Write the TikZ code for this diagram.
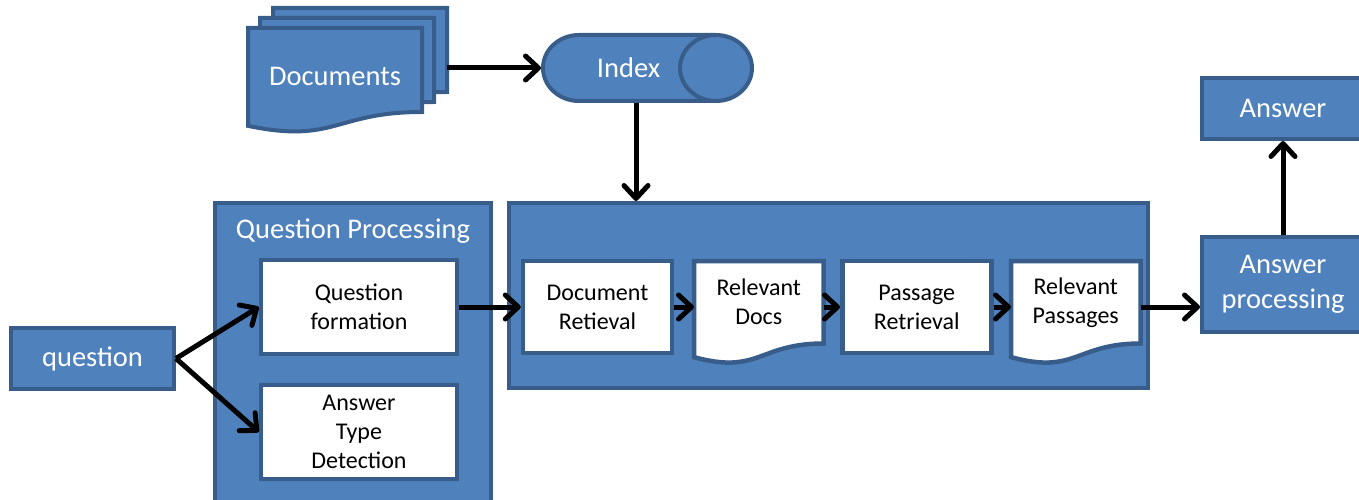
\documentclass[tikz,border=0pt]{standalone}
\usepackage{fontspec}
\setmainfont{Carlito}
\usetikzlibrary{positioning, shapes.geometric, arrows.meta, calc}
\definecolor{boxblue}{HTML}{4F81BD}
\definecolor{edgeblue}{HTML}{385D8A}
\pgfdeclarelayer{back}
\pgfdeclarelayer{middle}
\pgfsetlayers{back,middle,main}

% outline of a document node, wavy bottom below the node box
\newcommand{\docoutline}[1]{(#1.north west) -- (#1.north east) -- (#1.south east)
  .. controls (#1.south) and ($(#1.north)!1.381!(#1.south)$)
  .. ($(#1.north west)!1.165!(#1.south west)$) -- cycle}

\begin{document}
\begin{tikzpicture}[
  x=1pt, y=1pt,
  bluebox/.style={draw=edgeblue, fill=boxblue, line width=4pt, text=white,
    font=\fontsize{28.5}{35}\selectfont, align=center, inner sep=0pt},
  whitebox/.style={draw=edgeblue, fill=white, line width=4.5pt, text=black,
    font=\fontsize{24}{29}\selectfont, align=center, inner sep=0pt,
    minimum width=149, minimum height=92},
  docbox/.style={whitebox, draw=none, fill=none, minimum width=125, minimum height=78},
  pagebox/.style={bluebox, draw=none, fill=none, minimum width=170, minimum height=80},
  docline/.style={draw=edgeblue, fill=white, line width=4.5pt},
  pageline/.style={draw=edgeblue, fill=boxblue, line width=4pt},
  flow/.style={line width=5pt, -{Straight Barb[length=13pt, width=24pt, round]}}
]
\useasboundingbox (0,0) rectangle (1359,-500);

% containers
\begin{pgfonlayer}{back}
  \node[bluebox, minimum width=276, minimum height=307] (qproc) at (353,-356.5) {};
  \node[bluebox, minimum width=639, minimum height=185] (retr) at (828.5,-295.5) {};
\end{pgfonlayer}

% documents and index
\node[pagebox] (docsback) at (360,-50) {};
\node[pagebox] (docsmid) at (347,-60) {};
\node[pagebox, text height=32pt] (docs) at (335,-70) {Documents};
\node[bluebox, cylinder, aspect=3.6, minimum width=66, minimum height=209] (index) at (628.5,-68) {Index};

% question processing
\node[bluebox, minimum width=163, minimum height=61] (question) at (92.5,-358.5) {question};
\node[bluebox, draw=none, fill=none] (qtitle) at (353,-231) {Question Processing};
\node[whitebox, minimum width=196, minimum height=94] (qform) at (359,-307) {Question\\formation};
\node[whitebox, minimum width=196, minimum height=94] (atype) at (359,-432) {Answer\\Type\\Detection};

% retrieval chain
\node[whitebox] (docret) at (597.5,-307) {Document\\Retieval};
\node[docbox, anchor=north west] (reldocs) at (694,-261) {Relevant\\Docs};
\node[whitebox, anchor=west] (passret) at (840,-307) {Passage\\Retrieval};
\node[docbox, anchor=north west] (relpass) at (1011,-261) {Relevant\\Passages};

% answer
\node[bluebox, minimum width=162, minimum height=95] (ansproc) at (1283,-284.5) {Answer\\processing};
\node[bluebox, minimum width=162, minimum height=61] (answer) at (1283,-108.5) {Answer};

\begin{pgfonlayer}{middle}
  \draw[pageline] \docoutline{docsback};
  \draw[pageline] \docoutline{docsmid};
  \draw[pageline] \docoutline{docs};
  \draw[docline] \docoutline{reldocs};
  \draw[docline] \docoutline{relpass};
\end{pgfonlayer}

% connectors
\draw[flow] (index.west -| docsback.east) -- (index.west);
\draw[flow] ([xshift=7.5pt]index.south) -- ([xshift=7.5pt]index.south |- retr.north);
\draw[flow] (question.east) -- (qform.west);
\draw[flow] (question.east) -- (atype.west);
\draw[flow] (qform.east) -- (docret.west);
\draw[flow] (docret.east) -- (docret.east -| reldocs.west);
\draw[flow] (docret.east -| reldocs.east) -- (passret.west);
\draw[flow] (passret.east) -- (passret.east -| relpass.west);
\draw[flow] (passret.east -| relpass.east) -- (passret.east -| ansproc.west);
\draw[flow] (ansproc.north) -- (answer.south);

\end{tikzpicture}
\end{document}
